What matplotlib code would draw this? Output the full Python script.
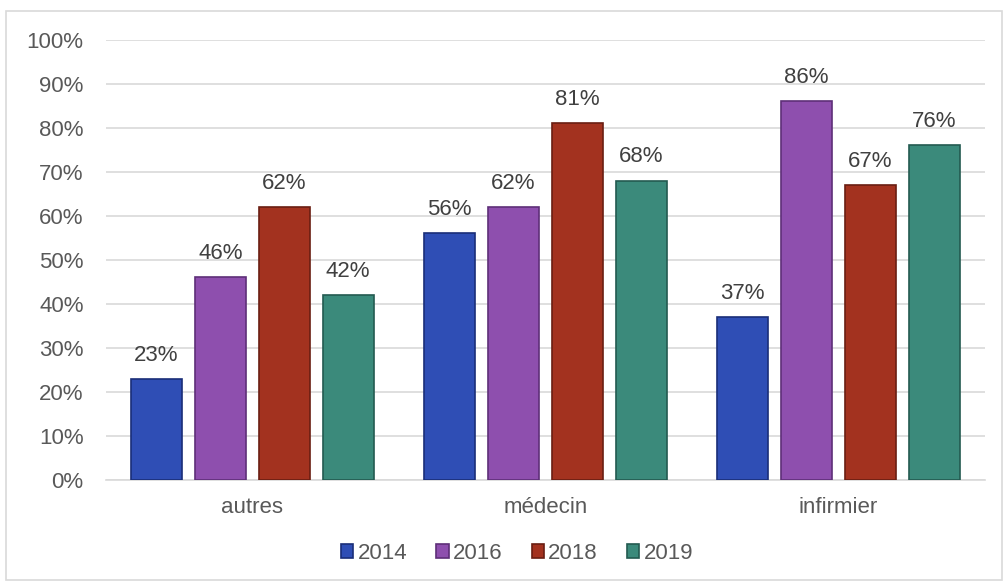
import numpy as np
import matplotlib
matplotlib.use("Agg")
import matplotlib.pyplot as plt
from matplotlib.patches import Rectangle

plt.rcParams["font.family"] = ["Liberation Sans", "DejaVu Sans"]

# data
categories = ["autres", "médecin", "infirmier"]
years = ["2014", "2016", "2018", "2019"]
values = {
    "2014": [23, 56, 37],
    "2016": [46, 62, 86],
    "2018": [62, 81, 67],
    "2019": [42, 68, 76],
}
colors = {"2014": "#2F4EB5", "2016": "#8E4FAE", "2018": "#A3321F", "2019": "#3B8A7B"}
edges = {"2014": "#1A2E78", "2016": "#5E2F78", "2018": "#6A1E12", "2019": "#235A50"}

fig = plt.figure(figsize=(10.08, 5.86), dpi=100)
fig.add_artist(Rectangle((0.006, 0.01), 0.988, 0.972, transform=fig.transFigure,
                         fill=False, edgecolor="#D9D9D9", linewidth=1.2))
ax = fig.add_axes([0.105, 0.181, 0.872, 0.751])

x = np.arange(len(categories))
width = 0.174
step = 0.218
for i, yr in enumerate(years):
    pos = x + (i - 1.5) * step
    ax.bar(pos, values[yr], width, color=colors[yr], edgecolor=edges[yr],
           linewidth=1.2, label=yr, zorder=3)
    for p, v in zip(pos, values[yr]):
        ax.text(p, v + 3, f"{v}%", ha="center", va="bottom", fontsize=16,
                color="#404040")

ax.set_xlim(-0.5, 2.5)
ax.set_ylim(0, 100)
ax.set_yticks(range(0, 101, 10))
ax.set_yticklabels([f"{t}%" for t in range(0, 101, 10)])
ax.set_xticks(x)
ax.set_xticklabels(categories)
ax.tick_params(axis="both", length=0, labelsize=16, labelcolor="#595959")
ax.tick_params(axis="x", pad=12)
ax.tick_params(axis="y", pad=16)
ax.grid(axis="y", color="#D9D9D9", linewidth=1.2, zorder=0)
for s in ["top", "right", "left"]:
    ax.spines[s].set_visible(False)
ax.spines["bottom"].set_color("#D9D9D9")
ax.spines["bottom"].set_linewidth(1.2)

leg = fig.legend(loc="center", bbox_to_anchor=(0.513, 0.056), ncol=4, frameon=False,
                 fontsize=16, handlelength=0.55, handleheight=0.55, handletextpad=0.2,
                 columnspacing=1.3)
for t in leg.get_texts():
    t.set_color("#595959")

fig.savefig("out.png", dpi=100)
